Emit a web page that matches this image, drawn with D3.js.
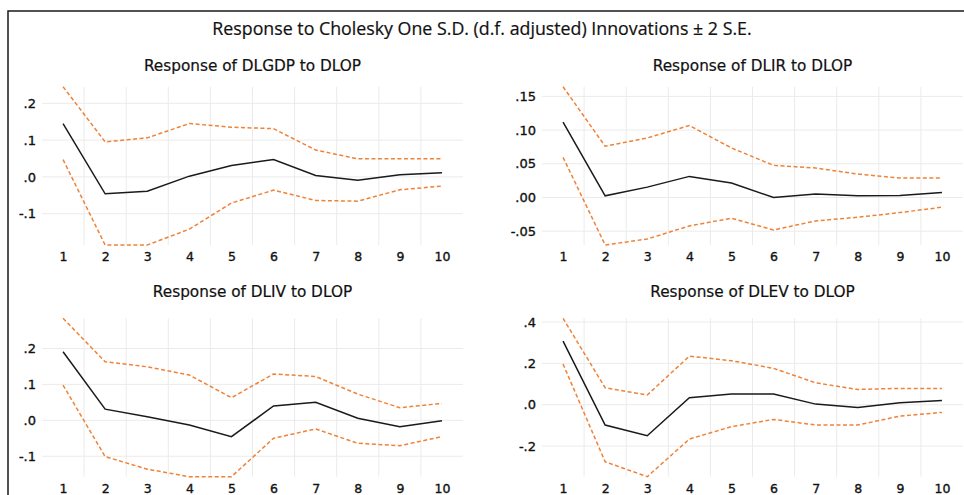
<!DOCTYPE html>
<html>
<head>
<meta charset="utf-8">
<script src="https://cdn.jsdelivr.net/npm/d3@7"></script>
<style>
  body { margin: 0; background: #fff; }
  svg { display: block; }
</style>
</head>
<body>
<div id="chart"></div>
<script>
// periods on the x axis
const periods = [1, 2, 3, 4, 5, 6, 7, 8, 9, 10];

// Response of DLGDP to DLOP
const gdpMean  = [0.145, -0.046, -0.039, 0.002, 0.031, 0.047, 0.004, -0.009, 0.006, 0.011];
const gdpUpper = [0.245, 0.095, 0.106, 0.145, 0.135, 0.131, 0.073, 0.049, 0.049, 0.049];
const gdpLower = [0.047, -0.185, -0.185, -0.142, -0.071, -0.036, -0.064, -0.066, -0.035, -0.025];

// Response of DLIR to DLOP
const irMean  = [0.1118, 0.0025, 0.0154, 0.0313, 0.0214, 0.0, 0.005, 0.0025, 0.003, 0.0075];
const irUpper = [0.1644, 0.076, 0.0884, 0.1068, 0.0735, 0.0477, 0.0437, 0.0348, 0.0288, 0.0288];
const irLower = [0.0596, -0.0705, -0.0616, -0.0422, -0.0308, -0.0482, -0.0348, -0.0293, -0.0224, -0.0144];

// Response of DLIV to DLOP
const ivMean  = [0.191, 0.031, 0.010, -0.013, -0.0455, 0.040, 0.050, 0.0056, -0.0176, -0.001];
const ivUpper = [0.284, 0.163, 0.149, 0.126, 0.063, 0.129, 0.122, 0.073, 0.035, 0.047];
const ivLower = [0.098, -0.101, -0.136, -0.157, -0.157, -0.050, -0.024, -0.064, -0.0706, -0.0455];

// Response of DLEV to DLOP
const evMean  = [0.308, -0.098, -0.150, 0.034, 0.052, 0.052, 0.003, -0.013, 0.010, 0.021];
const evUpper = [0.418, 0.082, 0.047, 0.235, 0.213, 0.176, 0.106, 0.074, 0.079, 0.079];
const evLower = [0.197, -0.276, -0.348, -0.166, -0.106, -0.071, -0.098, -0.098, -0.055, -0.037];

// y tick values per panel
const gdpTicks = [-0.1, 0, 0.1, 0.2];
const irTicks  = [-0.05, 0, 0.05, 0.10, 0.15];
const ivTicks  = [-0.1, 0, 0.1, 0.2];
const evTicks  = [-0.2, 0, 0.2, 0.4];

const chartTitle = "Response to Cholesky One S.D. (d.f. adjusted) Innovations \u00b1 2 S.E.";

const width = 964, height = 495;
const orange = "#ef8236";

const svg = d3.select("#chart").append("svg")
  .attr("width", width)
  .attr("height", height);

svg.append("rect").attr("width", width).attr("height", height).attr("fill", "#fff");

// outer frame (runs off the right and bottom edges)
svg.append("rect")
  .attr("x", 8).attr("y", 11)
  .attr("width", 1000).attr("height", 600)
  .attr("fill", "none")
  .attr("stroke", "#1a1a1a")
  .attr("stroke-width", 1.5);

svg.append("text")
  .attr("x", 482).attr("y", 35)
  .attr("text-anchor", "middle")
  .style("font-family", "'Open Sans', sans-serif")
  .style("font-size", "17.8px")
  .attr("fill", "#111")
  .attr("stroke", "#111").attr("stroke-width", 0.2)
  .text(chartTitle);

const panels = [
  { title: "Response of DLGDP to DLOP", mean: gdpMean, upper: gdpUpper, lower: gdpLower, ticks: gdpTicks, fmt: ".1f",
    left: 42, right: 463, top: 86.7, bottom: 245, titleY: 70.5 },
  { title: "Response of DLIR to DLOP", mean: irMean, upper: irUpper, lower: irLower, ticks: irTicks, fmt: ".2f",
    left: 542, right: 963, top: 86.7, bottom: 245, titleY: 70.5 },
  { title: "Response of DLIV to DLOP", mean: ivMean, upper: ivUpper, lower: ivLower, ticks: ivTicks, fmt: ".1f",
    left: 42, right: 463, top: 318.3, bottom: 476.7, titleY: 297 },
  { title: "Response of DLEV to DLOP", mean: evMean, upper: evUpper, lower: evLower, ticks: evTicks, fmt: ".1f",
    left: 542, right: 963, top: 318.3, bottom: 476.7, titleY: 297 }
];

// EViews style labels: ".2", "-.05"
function tickLabel(fmt) {
  const f = d3.format(fmt);
  return v => f(v).replace("\u2212", "-").replace(/^(-?)0\./, "$1.");
}

panels.forEach(p => {
  const x = d3.scaleLinear().domain([0.5, 10.5]).range([p.left, p.right]);
  const all = p.upper.concat(p.lower, p.mean);
  const y = d3.scaleLinear().domain(d3.extent(all)).range([p.bottom, p.top]);

  const g = svg.append("g");

  g.append("text")
    .attr("x", (p.left + p.right) / 2).attr("y", p.titleY)
    .attr("text-anchor", "middle")
    .style("font-family", "'DejaVu Sans', sans-serif")
    .style("font-size", "15.3px")
    .attr("fill", "#111")
    .attr("stroke", "#111").attr("stroke-width", 0.2)
    .text(p.title);

  // grid: horizontal at y ticks, vertical between periods
  g.append("g").selectAll("line")
    .data(p.ticks)
    .join("line")
    .attr("x1", p.left).attr("x2", p.right)
    .attr("y1", d => y(d)).attr("y2", d => y(d))
    .attr("stroke", "#ebebeb").attr("stroke-width", 1);

  g.append("g").selectAll("line")
    .data(periods.slice(0, -1).map(d => d + 0.5))
    .join("line")
    .attr("x1", d => x(d)).attr("x2", d => x(d))
    .attr("y1", p.top).attr("y2", p.bottom)
    .attr("stroke", "#ebebeb").attr("stroke-width", 1);

  // y axis labels
  const yAxis = d3.axisLeft(y).tickValues(p.ticks).tickFormat(tickLabel(p.fmt)).tickSize(0).tickPadding(6);
  const ya = g.append("g").attr("transform", `translate(${p.left},0)`).call(yAxis);
  ya.select(".domain").remove();
  ya.selectAll("text")
    .style("font-family", "'DejaVu Sans', sans-serif")
    .style("font-size", "13px")
    .attr("fill", "#111")
    .attr("stroke", "#111").attr("stroke-width", 0.35);

  // x axis labels
  const xAxis = d3.axisBottom(x).tickValues(periods).tickFormat(d3.format("d")).tickSize(0).tickPadding(7);
  const xa = g.append("g").attr("transform", `translate(0,${p.bottom})`).call(xAxis);
  xa.select(".domain").remove();
  xa.selectAll("text")
    .style("font-family", "'DejaVu Sans', sans-serif")
    .style("font-size", "12.5px")
    .attr("fill", "#111")
    .attr("stroke", "#111").attr("stroke-width", 0.35);

  const line = d3.line().x((d, i) => x(periods[i])).y(d => y(d));

  g.append("path").datum(p.upper)
    .attr("d", line).attr("fill", "none")
    .attr("stroke", orange).attr("stroke-width", 1.5)
    .attr("stroke-dasharray", "4,2.5");

  g.append("path").datum(p.lower)
    .attr("d", line).attr("fill", "none")
    .attr("stroke", orange).attr("stroke-width", 1.5)
    .attr("stroke-dasharray", "4,2.5");

  g.append("path").datum(p.mean)
    .attr("d", line).attr("fill", "none")
    .attr("stroke", "#1a1a1a").attr("stroke-width", 1.5);
});
</script>
</body>
</html>
